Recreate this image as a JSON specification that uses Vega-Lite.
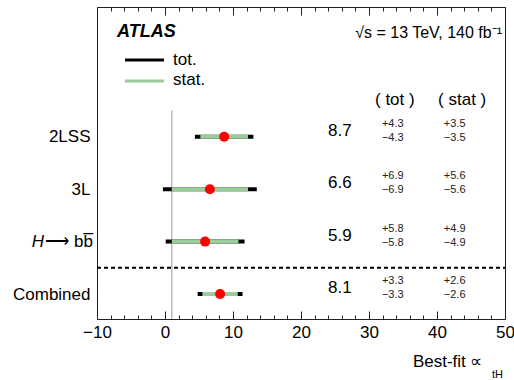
{
  "$schema": "https://vega.github.io/schema/vega-lite/v6.json",
  "width": 408,
  "height": 312,
  "autosize": {"type": "none"},
  "padding": {"left": 97, "top": 7, "right": 9, "bottom": 61},
  "config": {
    "view": {"stroke": "#222", "strokeWidth": 1},
    "font": "Liberation Sans",
    "axis": {"labelFont": "Liberation Sans", "titleFont": "Liberation Sans", "labelColor": "#000", "titleColor": "#000", "titleFontWeight": "normal"}
  },
  "datasets": {
    "rows": [
      {"label": "2LSS", "pos": 4, "mu": 8.7, "totLo": 4.4, "totHi": 13.0, "statLo": 5.2, "statHi": 12.2, "muTxt": "8.7", "totUp": "+4.3", "totDn": "−4.3", "statUp": "+3.5", "statDn": "−3.5"},
      {"label": "3L", "pos": 3, "mu": 6.6, "totLo": -0.3, "totHi": 13.5, "statLo": 1.0, "statHi": 12.2, "muTxt": "6.6", "totUp": "+6.9", "totDn": "−6.9", "statUp": "+5.6", "statDn": "−5.6"},
      {"label": "H→ bb̄", "pos": 2, "mu": 5.9, "totLo": 0.1, "totHi": 11.7, "statLo": 1.0, "statHi": 10.8, "muTxt": "5.9", "totUp": "+5.8", "totDn": "−5.8", "statUp": "+4.9", "statDn": "−4.9"},
      {"label": "Combined", "pos": 1, "mu": 8.1, "totLo": 4.8, "totHi": 11.4, "statLo": 5.5, "statHi": 10.7, "muTxt": "8.1", "totUp": "+3.3", "totDn": "−3.3", "statUp": "+2.6", "statDn": "−2.6"}
    ]
  },
  "layer": [
    {
      "data": {"values": [{"x": 1, "y": 0.523, "y2": 4.5}]},
      "mark": {"type": "rule", "color": "#bbbbbb", "strokeWidth": 1.5},
      "encoding": {
        "x": {"field": "x", "type": "quantitative", "scale": {"domain": [-10, 50], "nice": false, "zero": false},
          "axis": {"orient": "bottom", "offset": -8, "grid": false, "values": [-10, 0, 10, 20, 30, 40, 50], "tickSize": 8, "tickColor": "#222", "domain": false, "labelFontSize": 17, "labelPadding": 5, "labelFlush": false, "labelExpr": "replace(datum.label, '-', '−')",
            "title": "Best-fit ∝", "titleFontSize": 17, "titleAlign": "right", "titleBaseline": "middle", "titleX": 385, "titleY": 50}},
        "y": {"field": "y", "type": "quantitative", "scale": {"domain": [0.523, 6.477], "nice": false, "zero": false}, "axis": null},
        "y2": {"field": "y2"}
      }
    },
    {
      "data": {"values": [{"xa": -10, "xb": 50, "y": 1.5}]},
      "mark": {"type": "rule", "color": "#000", "strokeWidth": 2, "strokeDash": [4, 3]},
      "encoding": {
        "x": {"field": "xa", "type": "quantitative",
          "axis": {"orient": "bottom", "offset": -4, "grid": false, "values": [-8, -6, -4, -2, 2, 4, 6, 8, 12, 14, 16, 18, 22, 24, 26, 28, 32, 34, 36, 38, 42, 44, 46, 48], "tickSize": 4, "tickColor": "#222", "domain": false, "labels": false,
            "title": "tH", "titleFontSize": 11, "titleAlign": "center", "titleBaseline": "middle", "titleX": 400, "titleY": 59}},
        "x2": {"field": "xb"},
        "y": {"field": "y", "type": "quantitative", "axis": null}
      }
    },
    {
      "data": {"name": "rows"},
      "mark": {"type": "rule", "color": "#000", "strokeWidth": 4},
      "encoding": {
        "x": {"field": "totLo", "type": "quantitative", "axis": {"orient": "top", "offset": -8, "grid": false, "values": [-10, 0, 10, 20, 30, 40, 50], "tickSize": 8, "tickColor": "#222", "domain": false, "labels": false, "title": null}},
        "x2": {"field": "totHi"},
        "y": {"field": "pos", "type": "quantitative", "axis": null}
      }
    },
    {
      "data": {"name": "rows"},
      "mark": {"type": "rule", "color": "#9ccc9c", "strokeWidth": 4},
      "encoding": {
        "x": {"field": "statLo", "type": "quantitative", "axis": {"orient": "top", "offset": -4, "grid": false, "values": [-8, -6, -4, -2, 2, 4, 6, 8, 12, 14, 16, 18, 22, 24, 26, 28, 32, 34, 36, 38, 42, 44, 46, 48], "tickSize": 4, "tickColor": "#222", "domain": false, "labels": false, "title": null}},
        "x2": {"field": "statHi"},
        "y": {"field": "pos", "type": "quantitative", "axis": null}
      }
    },
    {
      "data": {"name": "rows"},
      "mark": {"type": "point", "filled": true, "color": "#ff0000", "size": 100, "opacity": 1},
      "encoding": {
        "x": {"field": "mu", "type": "quantitative", "axis": null},
        "y": {"field": "pos", "type": "quantitative",
          "axis": {"orient": "left", "values": [1, 2, 3, 4], "grid": false, "ticks": false, "domain": false, "labelFontSize": 17, "labelPadding": 7, "title": null,
            "labelExpr": "datum.value == 4 ? '2LSS' : datum.value == 3 ? '3L' : datum.value == 2 ? '' : 'Combined'"}}
      }
    },
    {
      "data": {"values": [{"x": -17.8, "y": 2, "t": "H"}]},
      "mark": {"type": "text", "fontSize": 17, "fontStyle": "italic", "align": "right", "baseline": "middle", "color": "#000"},
      "encoding": {
        "x": {"field": "x", "type": "quantitative", "axis": null},
        "y": {"field": "y", "type": "quantitative", "axis": null},
        "text": {"field": "t"}
      }
    },
    {
      "data": {"values": [{"x": -17.6, "y": 2, "t": "⟶ bb̅"}]},
      "mark": {"type": "text", "fontSize": 17, "align": "left", "baseline": "middle", "color": "#000"},
      "encoding": {
        "x": {"field": "x", "type": "quantitative", "axis": null},
        "y": {"field": "y", "type": "quantitative", "axis": null},
        "text": {"field": "t"}
      }
    },
    {
      "data": {"name": "rows"},
      "mark": {"type": "text", "fontSize": 17, "align": "center", "baseline": "middle", "dy": -6, "color": "#000"},
      "encoding": {
        "x": {"datum": 25.7, "type": "quantitative", "axis": null},
        "y": {"field": "pos", "type": "quantitative", "axis": null},
        "text": {"field": "muTxt"}
      }
    },
    {
      "data": {"name": "rows"},
      "mark": {"type": "text", "fontSize": 11, "align": "center", "baseline": "middle", "dy": -13, "color": "#222"},
      "encoding": {
        "x": {"datum": 33.5, "type": "quantitative", "axis": null},
        "y": {"field": "pos", "type": "quantitative", "axis": null},
        "text": {"field": "totUp"}
      }
    },
    {
      "data": {"name": "rows"},
      "mark": {"type": "text", "fontSize": 11, "align": "center", "baseline": "middle", "dy": 1, "color": "#222"},
      "encoding": {
        "x": {"datum": 33.5, "type": "quantitative", "axis": null},
        "y": {"field": "pos", "type": "quantitative", "axis": null},
        "text": {"field": "totDn"}
      }
    },
    {
      "data": {"name": "rows"},
      "mark": {"type": "text", "fontSize": 11, "align": "center", "baseline": "middle", "dy": -13, "color": "#222"},
      "encoding": {
        "x": {"datum": 42.6, "type": "quantitative", "axis": null},
        "y": {"field": "pos", "type": "quantitative", "axis": null},
        "text": {"field": "statUp"}
      }
    },
    {
      "data": {"name": "rows"},
      "mark": {"type": "text", "fontSize": 11, "align": "center", "baseline": "middle", "dy": 1, "color": "#222"},
      "encoding": {
        "x": {"datum": 42.6, "type": "quantitative", "axis": null},
        "y": {"field": "pos", "type": "quantitative", "axis": null},
        "text": {"field": "statDn"}
      }
    },
    {
      "data": {"values": [{"x": 33.8, "y": 4.7, "t": "( tot )"}, {"x": 43.7, "y": 4.7, "t": "( stat )"}]},
      "mark": {"type": "text", "fontSize": 17, "align": "center", "baseline": "middle", "color": "#000"},
      "encoding": {
        "x": {"field": "x", "type": "quantitative", "axis": null},
        "y": {"field": "y", "type": "quantitative", "axis": null},
        "text": {"field": "t"}
      }
    },
    {
      "data": {"values": [{"x1": -5.88, "x2": -0.15, "y": 5.466, "c": "tot"}, {"x1": -5.88, "x2": -0.15, "y": 5.065, "c": "stat"}]},
      "mark": {"type": "rule", "strokeWidth": 3},
      "encoding": {
        "x": {"field": "x1", "type": "quantitative", "axis": null},
        "x2": {"field": "x2"},
        "y": {"field": "y", "type": "quantitative", "axis": null},
        "color": {"field": "c", "type": "nominal", "scale": {"domain": ["tot", "stat"], "range": ["#000000", "#9ccc9c"]}, "legend": null}
      }
    },
    {
      "data": {"values": [{"x": 1.18, "y": 5.466, "t": "tot."}, {"x": 1.18, "y": 5.084, "t": "stat."}]},
      "mark": {"type": "text", "fontSize": 17, "align": "left", "baseline": "middle", "color": "#000"},
      "encoding": {
        "x": {"field": "x", "type": "quantitative", "axis": null},
        "y": {"field": "y", "type": "quantitative", "axis": null},
        "text": {"field": "t"}
      }
    },
    {
      "data": {"values": [{"x": -7.06, "y": 6.0, "t": "ATLAS"}]},
      "mark": {"type": "text", "fontSize": 18, "fontStyle": "italic", "fontWeight": "bold", "align": "left", "baseline": "middle", "color": "#000"},
      "encoding": {
        "x": {"field": "x", "type": "quantitative", "axis": null},
        "y": {"field": "y", "type": "quantitative", "axis": null},
        "text": {"field": "t"}
      }
    },
    {
      "data": {"values": [{"x": 49.56, "y": 5.98, "t": "√s = 13 TeV, 140 fb⁻¹"}]},
      "mark": {"type": "text", "fontSize": 16, "align": "right", "baseline": "middle", "color": "#000"},
      "encoding": {
        "x": {"field": "x", "type": "quantitative", "axis": null},
        "y": {"field": "y", "type": "quantitative", "axis": null},
        "text": {"field": "t"}
      }
    }
  ],
  "resolve": {"axis": {"x": "independent", "y": "independent"}}
}
